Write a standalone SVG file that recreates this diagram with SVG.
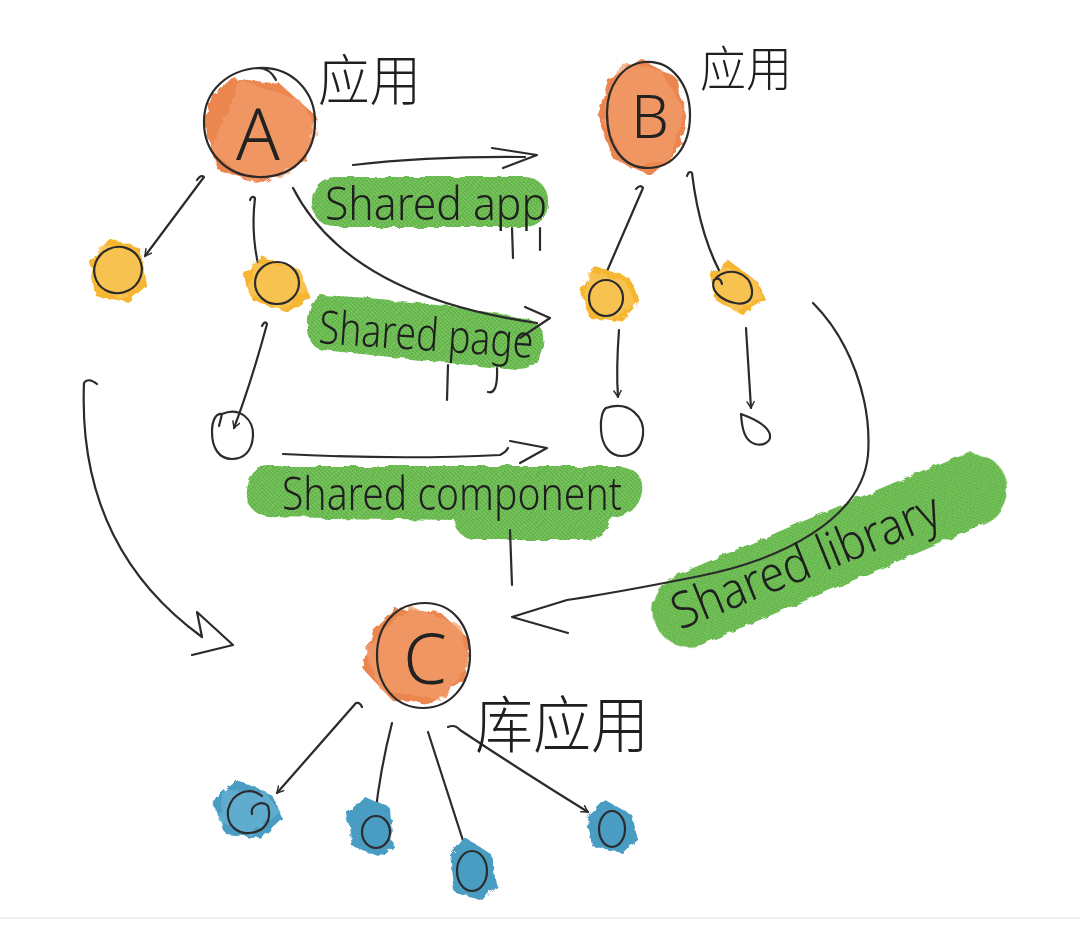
<svg xmlns="http://www.w3.org/2000/svg" width="1080" height="925" viewBox="0 0 1080 925">
<defs>
<style>
.ink{fill:none;stroke:#2b2b2b;stroke-width:2.2;stroke-linecap:round;stroke-linejoin:round}
.orange{fill:#ec8650}
.orange2{fill:#f29c6a;opacity:.7}
.yellow{fill:#f6b630}
.yellow2{fill:#f9c860;opacity:.7}
.blue{fill:#4a9cc2}
.blue2{fill:#6bb3d3;opacity:.7}
.green{fill:url(#dots)}
.lbl{font-family:"Noto Sans","Liberation Sans",sans-serif;font-weight:300;fill:#1f1f1f}
.cjk{font-family:"Noto Sans CJK SC","Noto Sans CJK JP",sans-serif;font-weight:300;fill:#1f1f1f}
.big{font-family:"Noto Sans","Liberation Sans",sans-serif;font-weight:300;fill:#222;text-anchor:middle}
</style>
<pattern id="dots" width="4" height="4" patternUnits="userSpaceOnUse">
<rect width="4" height="4" fill="#62b646"/>
<circle cx="1" cy="1" r="0.8" fill="#b9e0a8" opacity="0.6"/>
<circle cx="3" cy="3" r="0.8" fill="#b9e0a8" opacity="0.6"/>
</pattern>
<filter id="rough" x="-10%" y="-20%" width="120%" height="140%">
<feTurbulence type="fractalNoise" baseFrequency="0.08" numOctaves="2" seed="3"/>
<feDisplacementMap in="SourceGraphic" scale="6"/>
</filter>
<filter id="wash" x="-20%" y="-20%" width="140%" height="140%">
<feTurbulence type="fractalNoise" baseFrequency="0.12" numOctaves="2" seed="7"/>
<feDisplacementMap in="SourceGraphic" scale="7"/>
</filter>
<marker id="ah" viewBox="0 0 10 10" refX="8" refY="5" markerWidth="9" markerHeight="9" orient="auto" markerUnits="userSpaceOnUse">
<path d="M1,1 L8,5 L1,9" fill="none" stroke="#2b2b2b" stroke-width="1.6" stroke-linecap="round" stroke-linejoin="round"/>
</marker>
</defs>
<rect width="1080" height="925" fill="#ffffff"/>
<line x1="0" y1="918" x2="1080" y2="918" stroke="#ececec" stroke-width="1.5"/>

<!-- green highlights -->
<g id="highlights" filter="url(#rough)">
<rect class="green" x="312" y="177" width="236" height="50" rx="23"/>
<path class="green" d="M322,295 Q420,300 525,318 Q546,323 543,345 L538,362 Q530,373 508,369 L322,350 Q306,346 308,320 Q310,296 322,295 Z"/>
<path class="green" d="M268,466 L620,466 Q645,470 642,492 Q638,515 612,518 Q608,540 585,540 L478,540 Q455,538 455,520 L268,517 Q245,512 247,490 Q250,467 268,466 Z"/>
<rect class="green" x="640" y="513" width="380" height="74" rx="37" transform="rotate(-23 830 550)"/>
</g>

<!-- connectors -->
<g id="connectors">
<path class="ink" d="M197,180 Q201,174 204,177 L145,256" marker-end="url(#ah)"/>
<path class="ink" d="M250,200 Q252,195 255,198 Q250,240 262,279" marker-end="url(#ah)"/>
<path class="ink" d="M262,326 Q265,320 267,324 Q252,380 234,428" marker-end="url(#ah)"/>
<path class="ink" d="M636,189 Q640,184 643,188 L598,292" marker-end="url(#ah)"/>
<path class="ink" d="M687,176 Q689,170 692,173 Q700,240 726,283" marker-end="url(#ah)"/>
<path class="ink" d="M619,330 Q616,370 618,397" marker-end="url(#ah)"/>
<path class="ink" d="M746,328 L751,408" marker-end="url(#ah)"/>
<path class="ink" d="M353,165 Q430,156 525,157"/>
<path class="ink" d="M492,148 L537,155 L503,168"/>
<path class="ink" d="M293,188 C330,260 410,305 537,323"/>
<path class="ink" d="M525,307 L550,318 L520,338"/>
<path class="ink" d="M283,454 Q400,460 500,455 Q506,452 508,448"/>
<path class="ink" d="M510,441 L547,448 L520,463"/>
<path class="ink" d="M97,384 Q88,377 84,383 C80,480 110,570 202,637 L197,612 L233,645 L192,655"/>
<path class="ink" d="M813,303 C850,340 872,400 868,455 C862,520 780,560 700,576 C650,586 600,595 567,600 L512,617 L568,633"/>
<path class="ink" d="M362,707 Q360,702 356,703 L277,793" marker-end="url(#ah)"/>
<path class="ink" d="M392,723 Q380,770 375,817" marker-end="url(#ah)"/>
<path class="ink" d="M428,732 Q450,800 467,853" marker-end="url(#ah)"/>
<path class="ink" d="M448,727 Q455,724 460,730 Q520,770 588,812" marker-end="url(#ah)"/>
</g>

<!-- node A -->
<g id="nodeA">
<g filter="url(#wash)">
<polygon class="orange" points="232,78 280,84 316,116 306,160 262,184 218,170 203,122 212,96"/>
<polygon class="orange2" points="240,80 300,100 318,130 290,175 250,182 210,150"/>
</g>
<path class="ink" d="M258,68 C292,66 316,92 315,124 C314,158 290,178 258,177 C226,176 203,152 204,120 C205,90 228,70 258,68 Q270,68 276,80"/>
<text class="big" x="258" y="160" font-size="72">A</text>
<text class="cjk" x="318" y="100" font-size="55" textLength="103" lengthAdjust="spacingAndGlyphs">应用</text>
</g>

<!-- node B -->
<g id="nodeB">
<g filter="url(#wash)">
<polygon class="orange" points="640,58 676,78 688,120 678,152 650,176 612,158 598,115 608,80"/>
<polygon class="orange2" points="620,62 660,70 684,110 670,160 630,168 602,120"/>
</g>
<path class="ink" d="M645,62 C672,60 690,85 690,115 C690,148 672,168 648,168 C622,168 607,145 607,113 C607,86 622,64 645,62 Z"/>
<text class="big" x="650" y="138" font-size="60">B</text>
<text class="cjk" x="700" y="86" font-size="48" textLength="92" lengthAdjust="spacingAndGlyphs">应用</text>
</g>

<!-- node C -->
<g id="nodeC">
<g filter="url(#wash)">
<polygon class="orange" points="395,608 440,612 470,640 465,680 430,704 392,700 362,668 372,630"/>
<polygon class="orange2" points="410,606 460,625 470,665 440,700 380,690 365,650"/>
</g>
<path class="ink" d="M425,603 C452,603 470,625 470,655 C470,686 450,708 423,708 C396,708 377,686 377,655 C377,625 396,603 425,603 Z"/>
<text class="big" x="425" y="684" font-size="70">C</text>
<text class="cjk" x="475" y="748" font-size="62" textLength="174" lengthAdjust="spacingAndGlyphs">库应用</text>
</g>

<!-- A children -->
<g id="nodeA1">
<g filter="url(#wash)">
<polygon class="yellow" points="110,238 140,248 147,285 128,302 95,296 90,262"/>
<polygon class="yellow2" points="100,245 135,250 145,275 120,300 92,280"/>
</g>
<ellipse class="ink" cx="118" cy="270" rx="24" ry="23" transform="rotate(-25 118 270)"/>
</g>
<g id="nodeA2">
<g filter="url(#wash)">
<polygon class="yellow" points="262,257 300,270 310,298 288,312 252,300 243,275"/>
<polygon class="yellow2" points="255,262 298,268 308,290 280,310 248,292"/>
</g>
<ellipse class="ink" cx="277" cy="283" rx="22" ry="21"/>
</g>
<g id="nodeA3">
<path class="ink" d="M222,414 C240,406 254,420 253,436 C252,452 243,459 232,459 C219,459 212,448 212,432 C212,420 216,413 222,414 L219,426"/>
</g>

<!-- B children -->
<g id="nodeB1">
<g filter="url(#wash)">
<polygon class="yellow" points="595,266 630,278 640,302 620,322 590,318 580,290"/>
<polygon class="yellow2" points="588,272 625,280 636,305 610,320 584,300"/>
</g>
<ellipse class="ink" cx="606" cy="298" rx="17" ry="18"/>
</g>
<g id="nodeB2">
<g filter="url(#wash)">
<polygon class="yellow" points="728,260 758,282 766,300 742,314 716,300 710,275"/>
<polygon class="yellow2" points="720,265 755,280 762,298 735,312 712,290"/>
</g>
<path class="ink" d="M716,278 C728,266 750,272 752,290 C753,302 744,305 735,303 C720,300 710,290 714,280 Q720,276 722,284"/>
</g>
<g id="nodeB3">
<path class="ink" d="M606,408 C630,400 645,418 643,435 C641,450 632,456 622,456 C610,456 602,446 601,430 C600,418 603,410 606,408 Z"/>
</g>
<g id="nodeB4">
<path class="ink" d="M741,414 C752,418 768,425 770,435 C771,443 762,446 755,444 C745,441 742,430 741,414 Z"/>
</g>

<!-- C children -->
<g id="nodeC1">
<g filter="url(#wash)">
<polygon class="blue" points="238,780 272,795 282,818 262,838 226,834 212,800"/>
<polygon class="blue2" points="225,790 265,792 280,812 250,836 218,820"/>
</g>
<path class="ink" d="M262,796 C250,786 232,792 228,810 C226,826 238,834 250,833 C265,832 272,820 268,806 C262,800 250,805 252,814"/>
</g>
<g id="nodeC2">
<g filter="url(#wash)">
<polygon class="blue" points="365,797 390,808 393,848 378,856 352,846 347,813"/>
</g>
<ellipse class="ink" cx="376" cy="832" rx="14" ry="16"/>
</g>
<g id="nodeC3">
<g filter="url(#wash)">
<polygon class="blue" points="465,837 492,855 497,885 482,900 455,892 450,855"/>
</g>
<ellipse class="ink" cx="472" cy="871" rx="15" ry="20"/>
</g>
<g id="nodeC4">
<g filter="url(#wash)">
<polygon class="blue" points="605,800 632,815 638,840 622,853 592,846 587,818"/>
</g>
<ellipse class="ink" cx="612" cy="829" rx="13" ry="18"/>
</g>

<!-- labels -->
<g id="labels">
<text class="lbl" x="325" y="220" font-size="46" textLength="222" lengthAdjust="spacingAndGlyphs">Shared app</text>
<text class="lbl" x="318" y="343" font-size="46" textLength="215" lengthAdjust="spacingAndGlyphs" transform="rotate(4 318 343)">Shared page</text>
<text class="lbl" x="282" y="510" font-size="46" textLength="340" lengthAdjust="spacingAndGlyphs">Shared component</text>
<text class="lbl" x="680" y="630" font-size="50" textLength="285" lengthAdjust="spacingAndGlyphs" transform="rotate(-22 680 630)">Shared library</text>
<path class="ink" d="M512,228 L513,258 M540,228 L540,250 M448,365 L447,400 M497,368 Q498,395 488,392 M510,530 L512,585"/>
</g>
</svg>
